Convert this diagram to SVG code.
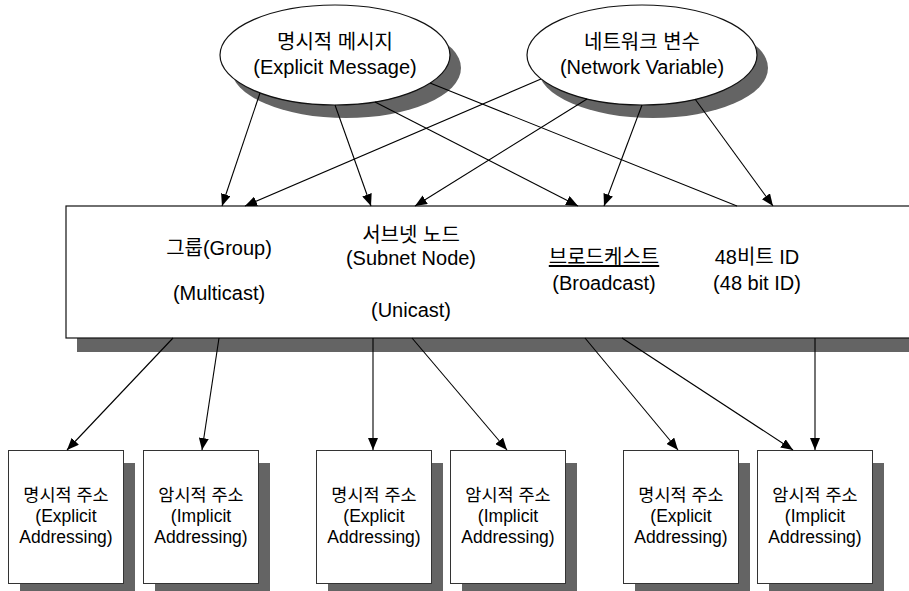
<svg xmlns="http://www.w3.org/2000/svg" width="909" height="591" viewBox="0 0 909 591">
  <style>
    text { font-family: "Liberation Sans", "Noto Sans CJK KR", sans-serif; fill: #000; text-anchor: middle; }
    .t20 { font-size: 20px; }
    .t18 { font-size: 17.5px; }
    .shadow { fill: #646464; stroke: none; }
    .shape { fill: #fff; stroke: #111; stroke-width: 1.2; }
    .box { fill: #fff; stroke: #333; stroke-width: 1; }
    .link { fill: none; stroke: #000; stroke-width: 1.1; }
  </style>
  <defs>
    <marker id="arrow" viewBox="0 0 12 10" refX="12" refY="5" markerWidth="12" markerHeight="10" markerUnits="userSpaceOnUse" orient="auto">
      <path d="M0,0 L12,5 L0,10 z" fill="#000"/>
    </marker>
  </defs>

  <rect width="909" height="591" fill="#fff"/>

  <!-- message sources -->
  <g id="explicit-message">
    <ellipse class="shadow" cx="346" cy="68" rx="115" ry="50"/>
    <ellipse class="shape" cx="335" cy="55" rx="115" ry="50"/>
    <text class="t20" x="335" y="49">명시적 메시지</text>
    <text class="t20" x="335" y="74">(Explicit Message)</text>
  </g>
  <g id="network-variable">
    <ellipse class="shadow" cx="653" cy="68" rx="115" ry="50"/>
    <ellipse class="shape" cx="642" cy="55" rx="115" ry="50"/>
    <text class="t20" x="642" y="49">네트워크 변수</text>
    <text class="t20" x="642" y="74">(Network Variable)</text>
  </g>

  <!-- addressing modes -->
  <g id="address-modes">
    <rect class="shadow" x="77" y="220" width="850" height="132"/>
    <rect class="shape" x="66" y="206" width="860" height="132"/>
    <text class="t20" x="219" y="255">그룹(Group)</text>
    <text class="t20" x="219" y="300">(Multicast)</text>
    <text class="t20" x="411" y="242">서브넷 노드</text>
    <text class="t20" x="411" y="265">(Subnet Node)</text>
    <text class="t20" x="411" y="317">(Unicast)</text>
    <text class="t20" x="604" y="264" text-decoration="underline">브로드케스트</text>
    <text class="t20" x="604" y="290">(Broadcast)</text>
    <text class="t20" x="757" y="264">48비트 ID</text>
    <text class="t20" x="757" y="290">(48 bit ID)</text>
  </g>

  <!-- addressing results -->
  <g id="group-explicit">
    <rect class="shadow" x="20" y="463" width="115" height="133"/>
    <rect class="box" x="8.5" y="450.5" width="115" height="133"/>
    <text class="t18" x="66" y="501">명시적 주소</text>
    <text class="t18" x="66" y="522">(Explicit</text>
    <text class="t18" x="66" y="543">Addressing)</text>
  </g>
  <g id="group-implicit">
    <rect class="shadow" x="155" y="463" width="115" height="133"/>
    <rect class="box" x="143.5" y="450.5" width="115" height="133"/>
    <text class="t18" x="201" y="501">암시적 주소</text>
    <text class="t18" x="201" y="522">(Implicit</text>
    <text class="t18" x="201" y="543">Addressing)</text>
  </g>
  <g id="subnet-explicit">
    <rect class="shadow" x="328" y="463" width="115" height="133"/>
    <rect class="box" x="316.5" y="450.5" width="115" height="133"/>
    <text class="t18" x="374" y="501">명시적 주소</text>
    <text class="t18" x="374" y="522">(Explicit</text>
    <text class="t18" x="374" y="543">Addressing)</text>
  </g>
  <g id="subnet-implicit">
    <rect class="shadow" x="462" y="463" width="115" height="133"/>
    <rect class="box" x="450.5" y="450.5" width="115" height="133"/>
    <text class="t18" x="508" y="501">암시적 주소</text>
    <text class="t18" x="508" y="522">(Implicit</text>
    <text class="t18" x="508" y="543">Addressing)</text>
  </g>
  <g id="broadcast-explicit">
    <rect class="shadow" x="635" y="463" width="115" height="133"/>
    <rect class="box" x="623.5" y="450.5" width="115" height="133"/>
    <text class="t18" x="681" y="501">명시적 주소</text>
    <text class="t18" x="681" y="522">(Explicit</text>
    <text class="t18" x="681" y="543">Addressing)</text>
  </g>
  <g id="broadcast-implicit">
    <rect class="shadow" x="769" y="463" width="115" height="133"/>
    <rect class="box" x="757.5" y="450.5" width="115" height="133"/>
    <text class="t18" x="815" y="501">암시적 주소</text>
    <text class="t18" x="815" y="522">(Implicit</text>
    <text class="t18" x="815" y="543">Addressing)</text>
  </g>

  <!-- connectors -->
  <g id="connectors">
    <line class="link" x1="260" y1="93" x2="222" y2="206" marker-end="url(#arrow)"/>
    <line class="link" x1="335" y1="105" x2="371" y2="206" marker-end="url(#arrow)"/>
    <line class="link" x1="375" y1="102" x2="578" y2="206" marker-end="url(#arrow)"/>
    <line class="link" x1="430" y1="83" x2="737" y2="206"/>
    <line class="link" x1="541" y1="79" x2="245" y2="206" marker-end="url(#arrow)"/>
    <line class="link" x1="587" y1="99" x2="415" y2="206" marker-end="url(#arrow)"/>
    <line class="link" x1="642" y1="105" x2="604" y2="206" marker-end="url(#arrow)"/>
    <line class="link" x1="695" y1="99" x2="773" y2="206" marker-end="url(#arrow)"/>

    <line class="link" x1="173" y1="338" x2="67" y2="450" marker-end="url(#arrow)"/>
    <line class="link" x1="219" y1="338" x2="202" y2="450" marker-end="url(#arrow)"/>
    <line class="link" x1="373" y1="338" x2="373" y2="450" marker-end="url(#arrow)"/>
    <line class="link" x1="412" y1="338" x2="507" y2="450" marker-end="url(#arrow)"/>
    <line class="link" x1="585" y1="338" x2="678" y2="450" marker-end="url(#arrow)"/>
    <line class="link" x1="622" y1="338" x2="793" y2="450" marker-end="url(#arrow)"/>
    <line class="link" x1="815" y1="338" x2="815" y2="450" marker-end="url(#arrow)"/>
  </g>
</svg>
